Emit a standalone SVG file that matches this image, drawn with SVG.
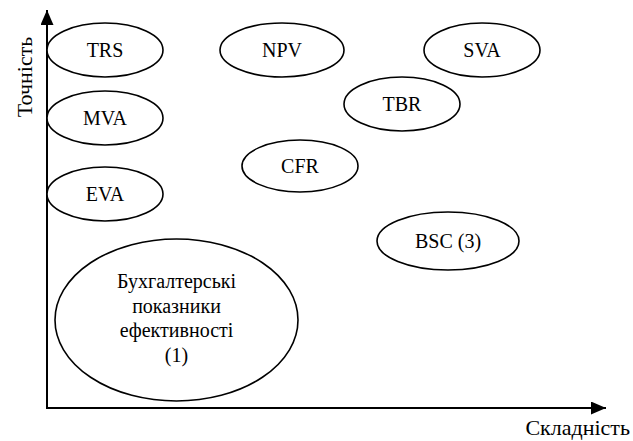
<svg xmlns="http://www.w3.org/2000/svg" width="633" height="441" viewBox="0 0 633 441" font-family="'Liberation Serif', 'Times New Roman', Tinos, 'DejaVu Serif', serif">
<style>
.n ellipse{fill:#fff;stroke:#000;stroke-width:1.6}
.n text{font-size:20px;text-anchor:middle}
.ax{font-size:22px}
.axis{stroke:#000;stroke-width:2;fill:none}
</style>
<defs>
<marker id="ah" markerWidth="15" markerHeight="13" refX="15" refY="6.5" orient="auto" markerUnits="userSpaceOnUse">
<path d="M0,0 L15,6.5 L0,13 Z" fill="#000"/>
</marker>
</defs>
<rect width="633" height="441" fill="#fff"/>
<g id="connectors">
<path class="axis" d="M47,408 L47,10" marker-end="url(#ah)"/>
<path class="axis" d="M46,408 L606,408" marker-end="url(#ah)"/>
</g>
<g id="trs" class="n"><ellipse cx="105" cy="50" rx="58" ry="27"/><text x="105" y="57">TRS</text></g>
<g id="mva" class="n"><ellipse cx="105" cy="118" rx="58" ry="27"/><text x="105" y="125">MVA</text></g>
<g id="eva" class="n"><ellipse cx="105" cy="194" rx="58" ry="27"/><text x="105" y="201">EVA</text></g>
<g id="npv" class="n"><ellipse cx="282" cy="50" rx="62" ry="27"/><text x="282" y="57">NPV</text></g>
<g id="sva" class="n"><ellipse cx="482" cy="50" rx="58" ry="27"/><text x="482" y="57">SVA</text></g>
<g id="tbr" class="n"><ellipse cx="402" cy="104" rx="58" ry="27"/><text x="402" y="111">TBR</text></g>
<g id="cfr" class="n"><ellipse cx="300" cy="166" rx="58" ry="26"/><text x="300" y="173">CFR</text></g>
<g id="bsc" class="n"><ellipse cx="448" cy="241" rx="71" ry="29"/><text x="448" y="248">BSC (3)</text></g>
<g id="acc" class="n"><ellipse cx="176.5" cy="320" rx="121.5" ry="81"/>
<text x="176.5" y="288">Бухгалтерські</text>
<text x="176.5" y="313">показники</text>
<text x="176.5" y="337">ефективності</text>
<text x="176.5" y="362">(1)</text></g>
<text class="ax" transform="translate(32,77) rotate(-90)" text-anchor="middle">Точність</text>
<text class="ax" x="630" y="435" text-anchor="end">Складність</text>
</svg>
